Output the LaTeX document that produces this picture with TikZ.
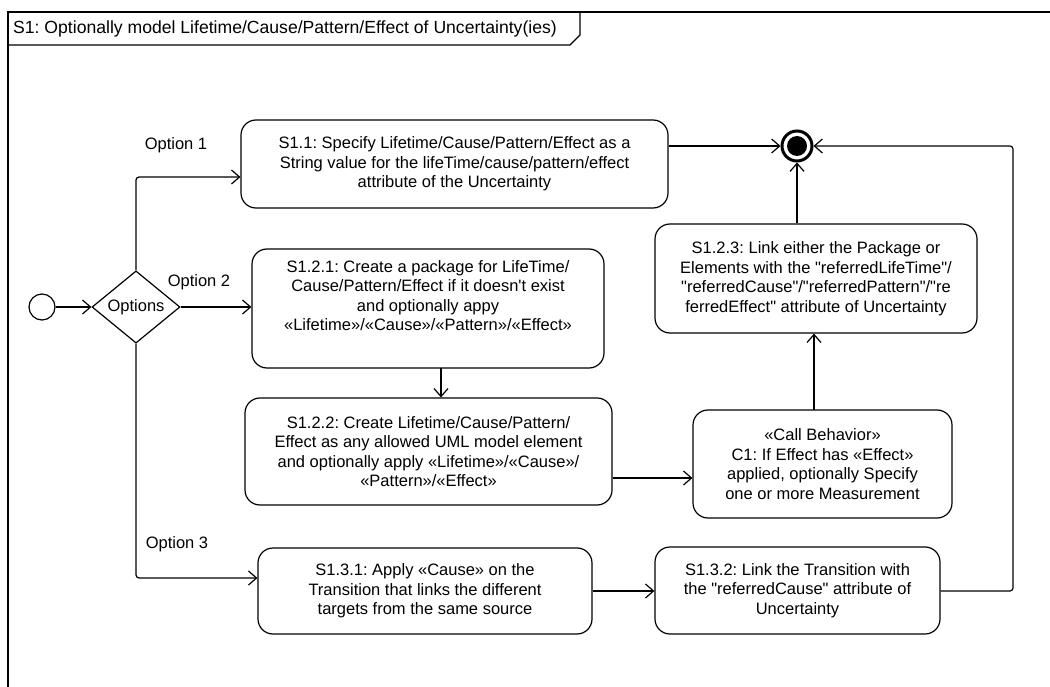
\documentclass[tikz,border=0pt]{standalone}
\usepackage{fontspec}
\setmainfont{Liberation Sans}
\usetikzlibrary{arrows.meta,shapes.geometric}
\newcommand\qq{\XeTeXglyph\XeTeXcharglyph"22\relax}
\newcommand\apos{\XeTeXglyph\XeTeXcharglyph"27\relax}
\frenchspacing
\begin{document}
\begin{tikzpicture}[x=1pt,y=-1pt,
  every node/.style={font=\fontsize{16.5}{19.5}\selectfont},
  act/.style={draw,line width=1.2pt,rounded corners=15pt,align=center,inner sep=0pt},
  flow/.style={line width=1.2pt,rounded corners=3pt,-{Straight Barb[length=8pt,width=14pt,line width=1.2pt]}},
  lbl/.style={anchor=center,inner sep=0pt}]
\useasboundingbox (0,0) rectangle (1050,687);
\begin{scope}
\clip (0,0) rectangle (1050,687);
\draw[line width=1.2pt] (8,700) -- (8,12) -- (1060,12);
\draw[line width=1.2pt] (8,45) -- (570,45) -- (580,35) -- (580,12);
\end{scope}
\node[anchor=west,inner sep=0pt,font=\fontsize{17.6}{20}\selectfont] (title) at (13,29) {S1: Optionally model Lifetime/Cause/Pattern/Effect of Uncertainty(ies)};

\node[draw,circle,line width=1.2pt,minimum size=26pt,inner sep=0pt] (init) at (42,307) {};
\node[draw,diamond,line width=1.2pt,minimum width=88pt,minimum height=68pt,inner sep=0pt] (opt) at (136,307) {Options};

\node[act,minimum width=427pt,minimum height=88pt] (s11) at (454.5,164) {S1.1: Specify Lifetime/Cause/Pattern/Effect as a\\String value for the lifeTime/cause/pattern/effect\\attribute of the Uncertainty};
\node[act,minimum width=352pt,minimum height=119pt] (s121) at (428,308.5) {S1.2.1: Create a package for LifeTime/\\Cause/Pattern/Effect if it doesn\apos t exist\\and optionally appy\\«Lifetime»/«Cause»/«Pattern»/«Effect»\\[6pt]};
\node[act,minimum width=367pt,minimum height=107pt] (s122) at (428.5,451.5) {S1.2.2: Create Lifetime/Cause/Pattern/\\Effect as any allowed UML model element\\and optionally apply «Lifetime»/«Cause»/\\«Pattern»/«Effect»};
\node[act,minimum width=259pt,minimum height=108pt] (c1) at (822.5,464) {«Call Behavior»\\C1: If Effect has «Effect»\\applied, optionally Specify\\one or more Measurement};
\node[act,minimum width=322pt,minimum height=109pt] (s123) at (816,278.5) {S1.2.3: Link either the Package or\\Elements with the \qq referredLifeTime\qq/\\\qq referredCause\qq/\qq referredPattern\qq/\qq re\\ferredEffect\qq{} attribute of Uncertainty};
\node[act,minimum width=334pt,minimum height=86pt] (s131) at (425,591) {S1.3.1: Apply «Cause» on the\\Transition that links the different\\targets from the same source};
\node[act,minimum width=285pt,minimum height=87pt] (s132) at (797.5,590.5) {S1.3.2: Link the Transition with\\the \qq referredCause\qq{} attribute of\\Uncertainty};

\node[draw,circle,line width=3pt,minimum size=30pt,inner sep=0pt,fill=white] (final) at (797,146) {};
\fill (final.center) circle (10pt);

\node[lbl] (l1) at (176,145) {Option 1};
\node[lbl] (l2) at (199,282) {Option 2};
\node[lbl] (l3) at (177,544) {Option 3};

\draw[flow] (init) -- (opt);
\draw[flow] (opt.north) |- (s11.west |- 0,177);
\draw[flow] (opt.east) -- (s121.west |- opt.east);
\draw[flow] (opt.south) |- (s131.west |- 0,578);
\draw[flow] (s11.east |- 0,146) -- (final.west);
\draw[flow] (441,368) coordinate (a) -- (a |- s122.north);
\draw[flow] (s122.east |- 0,478) -- (c1.west |- 0,478);
\draw[flow] (814,410) coordinate (b) -- (b |- s123.south);
\draw[flow] (s123.north -| final) -- (final.south);
\draw[flow] (s131.east |- 0,591) -- (s132.west |- 0,591);
\draw[flow] (s132.east |- 0,591) -- (1013,591) |- (final.east);
\end{tikzpicture}
\end{document}
